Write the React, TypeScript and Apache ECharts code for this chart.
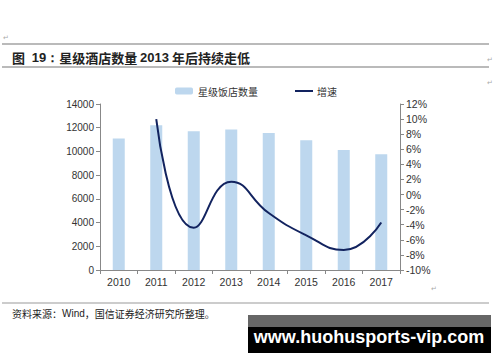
import React, { useEffect, useRef } from "react";
import * as echarts from "echarts";

const years = ["2010", "2011", "2012", "2013", "2014", "2015", "2016", "2017"];
const hotelCount = [11100, 12200, 11700, 11850, 11550, 10950, 10120, 9760];
const growth = [null, 10.0, -4.4, 1.7, -2.45, -5.4, -7.35, -3.7];
const leftTicks = { min: 0, max: 14000, interval: 2000 };
const rightTicks = { min: -10, max: 12, interval: 2 };

export default function App() {
  const ref = useRef<HTMLDivElement>(null);
  useEffect(() => {
    document.body.style.margin = "0";
    const chart = echarts.init(ref.current!, null, { renderer: "svg" });
    const axisFont = { fontFamily: "Arial, 'Liberation Sans', sans-serif", fontSize: 10, color: "#333" };
    const cjk = "'Noto Sans CJK SC', sans-serif";
    const lineColor = "#12235f";
    chart.setOption({
      animation: false,
      backgroundColor: "#fff",
      grid: { left: 100, right: 100, top: 104, bottom: 92 },
      legend: {
        left: 170,
        top: 81,
        itemWidth: 18,
        itemHeight: 7,
        itemGap: 4,
        textStyle: { fontFamily: cjk, fontSize: 10, color: "#333" },
        data: ["星级饭店数量"],
      },
      xAxis: {
        type: "category",
        data: years,
        axisLine: { lineStyle: { color: "#888" } },
        axisTick: { show: true, alignWithLabel: false, length: 4, lineStyle: { color: "#888" } },
        axisLabel: { ...axisFont, fontSize: 10.5, margin: 6 },
      },
      yAxis: [
        {
          type: "value",
          ...leftTicks,
          axisLine: { show: true, lineStyle: { color: "#888" } },
          axisTick: { show: true, length: 4, lineStyle: { color: "#888" } },
          splitLine: { show: false },
          axisLabel: { ...axisFont, margin: 6, formatter: (v: number) => String(v) },
        },
        {
          type: "value",
          ...rightTicks,
          position: "right",
          axisLine: { show: true, lineStyle: { color: "#888" } },
          axisTick: { show: true, length: 4, lineStyle: { color: "#888" } },
          splitLine: { show: false },
          axisLabel: { ...axisFont, fontSize: 10.5, margin: 6, formatter: "{value}%" },
        },
      ],
      series: [
        {
          name: "星级饭店数量",
          type: "bar",
          data: hotelCount,
          barWidth: 12,
          itemStyle: { color: "#bdd7ee" },
        },
        {
          name: "增速",
          type: "line",
          yAxisIndex: 1,
          data: growth,
          smooth: 0.5,
          symbol: "none",
          lineStyle: { color: lineColor, width: 2 },
          itemStyle: { color: lineColor },
        },
      ],
      graphic: [
        { type: "line", shape: { x1: 2, y1: 44, x2: 489, y2: 44 }, style: { stroke: "#777", lineWidth: 1.2 } },
        { type: "line", shape: { x1: 2, y1: 67, x2: 489, y2: 67 }, style: { stroke: "#777", lineWidth: 1.2 } },
        { type: "line", shape: { x1: 2, y1: 303, x2: 489, y2: 303 }, style: { stroke: "#999", lineWidth: 1 } },
        { type: "line", shape: { x1: 295, y1: 91, x2: 313, y2: 91 }, style: { stroke: lineColor, lineWidth: 2 } },
        {
          type: "text",
          x: 317,
          y: 91,
          style: { text: "增速", fontFamily: cjk, fontSize: 10, fill: "#333", verticalAlign: "middle" },
        },
        {
          type: "text",
          x: 12,
          y: 57,
          style: {
            text: "{a|图}  {b|19：}{a|星级酒店数量 }{b|2013}{a| 年后持续走低}",
            verticalAlign: "middle",
            rich: {
              a: { fontFamily: cjk, fontSize: 13, fontWeight: "bold", fill: "#222" },
              b: { fontFamily: "Arial, sans-serif", fontSize: 13, fontWeight: "bold", fill: "#222" },
            },
          },
        },
        { type: "text", x: 3, y: 37, style: { text: "↵", fontSize: 7, fill: "#aaa", verticalAlign: "middle" } },
        { type: "text", x: 487, y: 59, style: { text: "↵", fontSize: 7, fill: "#aaa", verticalAlign: "middle" } },
        { type: "text", x: 487, y: 82, style: { text: "↵", fontSize: 7, fill: "#aaa", verticalAlign: "middle" } },
        { type: "text", x: 431, y: 288, style: { text: "↵", fontSize: 7, fill: "#aaa", verticalAlign: "middle" } },
        {
          type: "text",
          x: 12,
          y: 313,
          style: {
            text: "{a|资料来源：}{b|Wind}{a|，国信证券经济研究所整理。}",
            verticalAlign: "middle",
            rich: {
              a: { fontFamily: cjk, fontSize: 10, fill: "#222" },
              b: { fontFamily: "Arial, sans-serif", fontSize: 10, fill: "#222" },
            },
          },
        },
        { type: "rect", shape: { x: 248, y: 315, width: 243, height: 12 }, style: { fill: "#666" } },
        { type: "rect", shape: { x: 248, y: 327, width: 243, height: 26 }, style: { fill: "#000" } },
        {
          type: "text",
          x: 369,
          y: 337,
          style: {
            text: "www.huohusports-vip.com",
            fontFamily: "'Liberation Sans', Arial, sans-serif",
            fontSize: 18,
            fontWeight: "bold",
            fill: "#fff",
            align: "center",
            verticalAlign: "middle",
          },
        },
      ],
    });
    return () => chart.dispose();
  }, []);
  return <div ref={ref} style={{ width: 500, height: 362 }} />;
}
